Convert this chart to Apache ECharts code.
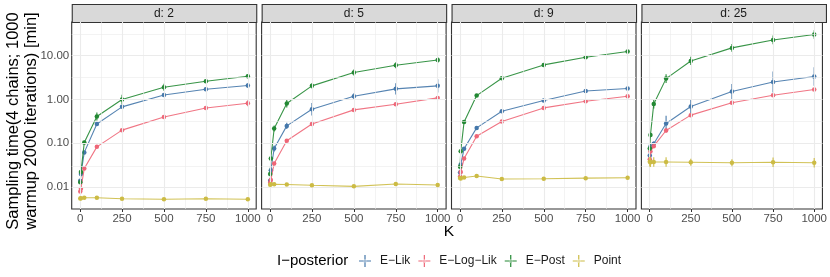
<!DOCTYPE html>
<html><head><meta charset="utf-8">
<script src="https://cdn.jsdelivr.net/npm/echarts@6/dist/echarts.min.js"></script>
<style>html,body{margin:0;padding:0;background:#fff}#c{width:830px;height:277px}</style>
</head><body><div id="c"></div>
<script>
// ---------- data ----------
const K = [1, 5, 25, 100, 250, 500, 750, 1000];
const panels = ['d: 2', 'd: 5', 'd: 9', 'd: 25'];
const seriesNames = ['E−Lik', 'E−Log−Lik', 'E−Post', 'Point'];
const xTicks = [0, 250, 500, 750, 1000];
const xMinor = [125, 375, 625, 875];
const yTicks = [0.01, 0.1, 1, 10];
const yTickLabels = ['0.01', '0.10', '1.00', '10.00'];
const yMinor = [0.0316, 0.316, 3.16, 31.6];

// values (minutes); *_err = half-width of error bar in decades (log10)
const d2_ELik      = [0.014, 0.020, 0.062, 0.277, 0.68, 1.27, 1.72, 2.09];
const d2_ELogLik   = [0.0079, 0.0092, 0.0266, 0.083, 0.20, 0.40, 0.64, 0.82];
const d2_EPost     = [0.0129, 0.022, 0.104, 0.41, 1.0, 1.91, 2.62, 3.4];
const d2_Point     = [0.0055, 0.0056, 0.0057, 0.0057, 0.0054, 0.0053, 0.0054, 0.0053];
const d2_ELik_err    = [0.03, 0.03, 0.03, 0.04, 0.03, 0.03, 0.04, 0.05];
const d2_ELogLik_err = [0.03, 0.03, 0.02, 0.02, 0.02, 0.02, 0.03, 0.07];
const d2_EPost_err   = [0.04, 0.03, 0.04, 0.09, 0.11, 0.08, 0.03, 0.04];
const d2_Point_err   = [0.02, 0.02, 0.02, 0.02, 0.02, 0.02, 0.02, 0.02];

const d5_ELik      = [0.0139, 0.0243, 0.076, 0.25, 0.60, 1.19, 1.75, 2.05];
const d5_ELogLik   = [0.0125, 0.0145, 0.0346, 0.114, 0.277, 0.58, 0.78, 1.09];
const d5_EPost     = [0.020, 0.045, 0.218, 0.81, 2.05, 4.13, 6.07, 8.0];
const d5_Point     = [0.0113, 0.0116, 0.0116, 0.0115, 0.011, 0.0104, 0.0118, 0.0112];
const d5_ELik_err    = [0.03, 0.05, 0.07, 0.07, 0.145, 0.07, 0.13, 0.15];
const d5_ELogLik_err = [0.02, 0.02, 0.02, 0.02, 0.02, 0.02, 0.02, 0.03];
const d5_EPost_err   = [0.03, 0.04, 0.07, 0.09, 0.06, 0.07, 0.07, 0.07];
const d5_Point_err   = [0.03, 0.03, 0.03, 0.03, 0.03, 0.03, 0.03, 0.03];

const d9_ELik      = [0.0215, 0.033, 0.075, 0.225, 0.54, 0.95, 1.57, 1.78];
const d9_ELogLik   = [0.0175, 0.022, 0.045, 0.145, 0.315, 0.643, 0.915, 1.19];
const d9_EPost     = [0.029, 0.066, 0.308, 1.23, 3.06, 6.17, 9.25, 12.5];
const d9_Point     = [0.0162, 0.0158, 0.0165, 0.018, 0.0153, 0.0155, 0.016, 0.0163];
const d9_ELik_err    = [0.02, 0.02, 0.02, 0.02, 0.02, 0.02, 0.02, 0.02];
const d9_ELogLik_err = [0.02, 0.02, 0.02, 0.02, 0.02, 0.02, 0.02, 0.02];
const d9_EPost_err   = [0.02, 0.02, 0.02, 0.02, 0.02, 0.02, 0.02, 0.03];
const d9_Point_err   = [0.02, 0.02, 0.02, 0.02, 0.02, 0.02, 0.02, 0.02];

const d25_ELik     = [0.053, 0.085, 0.098, 0.283, 0.69, 1.52, 2.52, 3.35];
const d25_ELogLik  = [0.043, 0.065, 0.086, 0.196, 0.44, 0.84, 1.25, 1.69];
const d25_EPost    = [0.076, 0.155, 0.79, 3.0, 7.6, 15.1, 22.9, 30.5];
const d25_Point    = [0.038, 0.037, 0.0375, 0.0375, 0.037, 0.036, 0.037, 0.036];
const d25_ELik_err    = [0.05, 0.05, 0.05, 0.18, 0.15, 0.17, 0.24, 0.21];
const d25_ELogLik_err = [0.04, 0.04, 0.03, 0.05, 0.03, 0.03, 0.03, 0.03];
const d25_EPost_err   = [0.05, 0.05, 0.10, 0.10, 0.095, 0.09, 0.10, 0.095];
const d25_Point_err   = [0.11, 0.11, 0.11, 0.11, 0.08, 0.08, 0.11, 0.11];

const panelData = [
  [[d2_ELik, d2_ELik_err], [d2_ELogLik, d2_ELogLik_err], [d2_EPost, d2_EPost_err], [d2_Point, d2_Point_err]],
  [[d5_ELik, d5_ELik_err], [d5_ELogLik, d5_ELogLik_err], [d5_EPost, d5_EPost_err], [d5_Point, d5_Point_err]],
  [[d9_ELik, d9_ELik_err], [d9_ELogLik, d9_ELogLik_err], [d9_EPost, d9_EPost_err], [d9_Point, d9_Point_err]],
  [[d25_ELik, d25_ELik_err], [d25_ELogLik, d25_ELogLik_err], [d25_EPost, d25_EPost_err], [d25_Point, d25_Point_err]]
];

// ---------- styling / layout ----------
const colors = ['#4477AA', '#EE6677', '#228833', '#CCBB44'];
const FONT = '"Liberation Sans", Arial, Helvetica, sans-serif';
const lefts = [71.7, 261.6, 451.5, 641.4];
const PW = 184.5, PT = 22, PH = 187;
const YMIN = Math.pow(10, -2.5), YMAX = Math.pow(10, 1.77);

const grids = [], xAxes = [], yAxes = [], series = [], graphics = [];
panels.forEach((p, i) => {
  grids.push({left: lefts[i], top: PT, width: PW, height: PH, show: true,
    borderColor: '#333333', borderWidth: 1.1, backgroundColor: '#ffffff', containLabel: false});
  xAxes.push({type: 'value', gridIndex: i, min: -50, max: 1050,
    axisLine: {show: false},
    axisTick: {show: true, customValues: xTicks, length: 3, lineStyle: {color: '#333333', width: 1}},
    axisLabel: {show: true, customValues: xTicks, margin: 4, fontSize: 11.5, color: '#4D4D4D', fontFamily: FONT,
      formatter: v => String(v)},
    splitLine: {show: false}});
  yAxes.push({type: 'log', logBase: 10, gridIndex: i, min: YMIN, max: YMAX,
    axisLine: {show: false},
    axisTick: {show: i === 0, customValues: yTicks, length: 3, lineStyle: {color: '#333333', width: 1}},
    axisLabel: {show: i === 0, customValues: yTicks, margin: 2.5, fontSize: 11.5, color: '#4D4D4D', fontFamily: FONT,
      formatter: v => { const k = yTicks.findIndex(t => Math.abs(Math.log10(t) - Math.log10(v)) < 1e-6); return k >= 0 ? yTickLabels[k] : ''; }},
    splitLine: {show: false}, minorSplitLine: {show: false}});

  // gridlines (drawn through the axes via markLine)
  const gl = [];
  xMinor.forEach(v => gl.push({xAxis: v, lineStyle: {color: '#EBEBEB', width: 0.6, type: 'solid'}}));
  yMinor.forEach(v => gl.push({yAxis: v, lineStyle: {color: '#EBEBEB', width: 0.6, type: 'solid'}}));
  xTicks.forEach(v => gl.push({xAxis: v, lineStyle: {color: '#EBEBEB', width: 1.1, type: 'solid'}}));
  yTicks.forEach(v => gl.push({yAxis: v, lineStyle: {color: '#EBEBEB', width: 1.1, type: 'solid'}}));
  series.push({type: 'line', name: '__grid' + i, xAxisIndex: i, yAxisIndex: i, data: [], z: 0, silent: true,
    markLine: {silent: true, symbol: ['none', 'none'], label: {show: false}, animation: false, data: gl}});

  panelData[i].forEach((pair, s) => {
    const vals = pair[0], errs = pair[1];
    const col = colors[s];
    series.push({type: 'custom', name: seriesNames[s], xAxisIndex: i, yAxisIndex: i, z: 2 + s,
      data: K.map((k, j) => [k, vals[j] / Math.pow(10, errs[j]), vals[j] * Math.pow(10, errs[j])]),
      encode: {x: 0, y: [1, 2]},
      renderItem: (params, api) => {
        const a = api.coord([api.value(0), api.value(1)]);
        const b = api.coord([api.value(0), api.value(2)]);
        return {type: 'line', shape: {x1: a[0], y1: a[1], x2: b[0], y2: b[1]},
          style: {stroke: col, lineWidth: 1.2, opacity: 0.9}};
      },
      itemStyle: {color: col}, silent: true, animation: false});
    series.push({type: 'line', name: seriesNames[s], xAxisIndex: i, yAxisIndex: i, z: 2 + s,
      data: K.map((k, j) => [k, vals[j]]),
      symbol: 'circle', symbolSize: 4.5, showSymbol: true,
      itemStyle: {color: col}, lineStyle: {color: col, width: 1.1, opacity: 0.9},
      emphasis: {disabled: true}, silent: true, animation: false});
  });

  // facet strip
  graphics.push({type: 'rect', left: lefts[i], top: 4, shape: {width: PW, height: 18},
    style: {fill: '#D9D9D9', stroke: '#333333', lineWidth: 1.1}, silent: true});
  graphics.push({type: 'text', x: lefts[i] + PW / 2, y: 13.5,
    style: {text: p, font: '12px ' + FONT, fill: '#1A1A1A', align: 'center', verticalAlign: 'middle'}, silent: true});
});

// axis titles
graphics.push({type: 'text', x: 22.5, y: 121, rotation: Math.PI / 2,
  style: {text: 'Sampling time(4 chains; 1000\nwarmup 2000 iterations) [min]', font: '16.5px ' + FONT,
    fill: '#000000', align: 'center', verticalAlign: 'middle', lineHeight: 17.5}, silent: true});
graphics.push({type: 'text', x: 449, y: 232,
  style: {text: 'K', font: '15.5px ' + FONT, fill: '#000000', align: 'center', verticalAlign: 'middle'}, silent: true});
graphics.push({type: 'text', x: 277, y: 260.5,
  style: {text: 'I−posterior', font: '15px ' + FONT, fill: '#000000', align: 'left', verticalAlign: 'middle'}, silent: true});

const crossIcon = 'path://M0,5.4H12V6.6H0Z M5.4,0H6.6V12H5.4Z M4.4,6a1.6,1.6 0 1,0 3.2,0a1.6,1.6 0 1,0 -3.2,0Z';

const chart = echarts.init(document.getElementById('c'), null, {renderer: 'canvas'});
chart.setOption({
  animation: false,
  backgroundColor: '#ffffff',
  textStyle: {fontFamily: FONT},
  grid: grids, xAxis: xAxes, yAxis: yAxes,
  legend: {data: seriesNames.map(n => ({name: n, icon: crossIcon})), left: 354, top: 250,
    itemWidth: 12, itemHeight: 12, itemGap: 8, selectedMode: false,
    textStyle: {fontSize: 12, color: '#1A1A1A', fontFamily: FONT, padding: [0, 0, 0, 4]}},
  graphic: graphics,
  series: series
});
</script></body></html>
